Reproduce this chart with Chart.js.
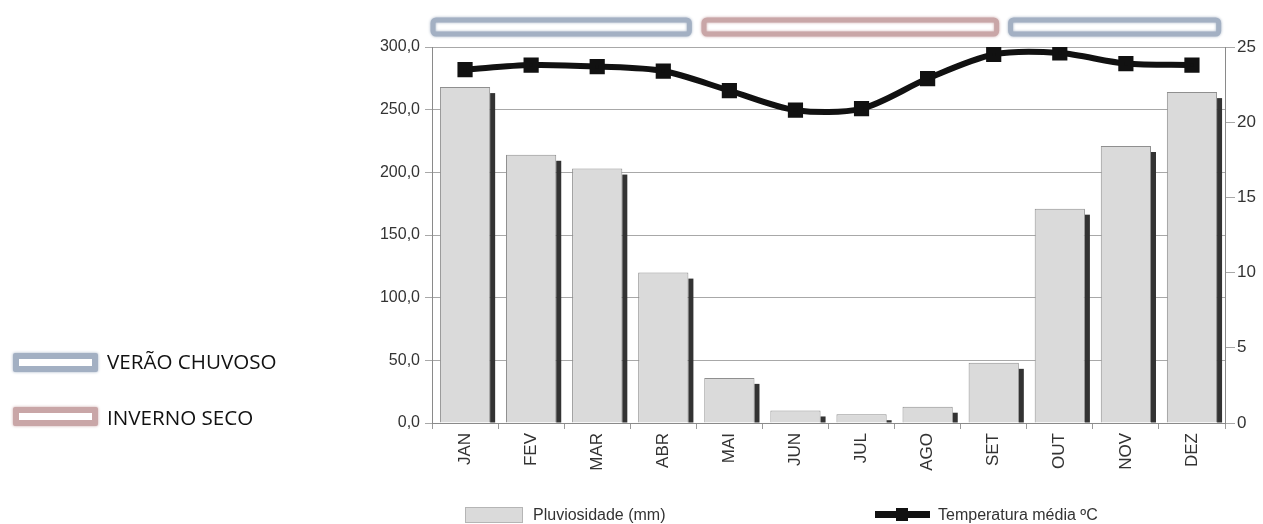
<!DOCTYPE html>
<html>
<head>
<meta charset="utf-8">
<script src="https://cdn.jsdelivr.net/npm/chart.js@4.4.1/dist/chart.umd.min.js"></script>
<style>
  body { margin: 0; background: #fff; }
  #wrap { position: absolute; left: 0; top: 0; width: 1263px; height: 524px; }
  .leg { position: absolute; font-family: "Open Sans", sans-serif; font-size: 20.6px; color: #111; line-height: 20px; }
  .box { position: absolute; width: 73px; height: 7px; background: #fff; border-radius: 2px; }
  .bleg { position: absolute; font-family: "Liberation Sans", Arial, sans-serif; font-size: 16px; color: #333; line-height: 16px; }
</style>
</head>
<body>
<div id="wrap">
  <canvas id="grafico" width="1263" height="524"></canvas>
</div>
<div class="box" style="left:13px;top:353px;border:6px solid #a3b0c3;box-shadow:0 0 3px #a3b0c3;"></div>
<div class="leg" style="left:107px;top:351px;">VERÃO CHUVOSO</div>
<div class="box" style="left:13px;top:407px;border:6px solid #c9a6a7;box-shadow:0 0 3px #c9a6a7;"></div>
<div class="leg" style="left:107px;top:407px;">INVERNO SECO</div>

<div style="position:absolute;left:465px;top:507px;width:56px;height:14px;background:#dadada;border:1px solid #b5b5b5;"></div>
<div class="bleg" style="left:533px;top:507px;">Pluviosidade (mm)</div>
<div style="position:absolute;left:875px;top:511px;width:55px;height:7px;background:#111;"></div>
<div style="position:absolute;left:896px;top:508px;width:12px;height:13px;background:#111;"></div>
<div class="bleg" style="left:938px;top:507px;">Temperatura média ºC</div>

<script>
const meses = ['JAN', 'FEV', 'MAR', 'ABR', 'MAI', 'JUN', 'JUL', 'AGO', 'SET', 'OUT', 'NOV', 'DEZ'];
const chuva = [268, 214, 203, 120, 36, 10, 7, 13, 48, 171, 221, 264];
const temperatura = [23.5, 23.8, 23.7, 23.4, 22.1, 20.8, 20.9, 22.9, 24.5, 24.6, 23.9, 23.8];

const sombraBarras = {
    id: 'sombraBarras',
    afterDatasetDraw(chart, args) {
        if (args.index !== 0) return;
        const ctx = chart.ctx;
        ctx.save();
        ctx.fillStyle = '#333';
        args.meta.data.forEach(function(bar) {
            const topo = Math.min(bar.y + 6, bar.base - 2);
            ctx.fillRect(bar.x + bar.width / 2, topo, 5, bar.base - topo);
        });
        ctx.restore();
    }
};

// faixas das estações no topo (limites em posição de mês)
const faixasEstacao = {
    id: 'faixasEstacao',
    afterDraw(chart) {
        const faixas = [
            { de: -0.53, ate: 3.44, cor: '#a3b0c3' },
            { de: 3.57, ate: 8.09, cor: '#c9a6a7' },
            { de: 8.21, ate: 11.45, cor: '#a3b0c3' }
        ];
        const ctx = chart.ctx;
        const x = chart.scales.x;
        ctx.save();
        faixas.forEach(function(f) {
            const ini = x.getPixelForValue(f.de);
            const fim = x.getPixelForValue(f.ate);
            ctx.shadowColor = f.cor;
            ctx.shadowBlur = 3;
            ctx.strokeStyle = f.cor;
            ctx.lineWidth = 5;
            ctx.beginPath();
            ctx.roundRect(ini + 3, 20, fim - ini - 6, 14, 3);
            ctx.stroke();
        });
        ctx.restore();
    }
};

new Chart(document.getElementById('grafico'), {
    data: {
        labels: meses,
        datasets: [{
            type: 'bar',
            label: 'Pluviosidade (mm)',
            data: chuva,
            yAxisID: 'y',
            backgroundColor: '#dadada',
            borderColor: '#8f8f8f',
            borderWidth: 1,
            barPercentage: 0.76,
            categoryPercentage: 1,
            order: 1
        }, {
            type: 'line',
            label: 'Temperatura média ºC',
            data: temperatura,
            yAxisID: 'y1',
            borderColor: '#111',
            backgroundColor: '#111',
            borderWidth: 6,
            tension: 0.3,
            pointStyle: 'rect',
            pointRadius: 6.5,
            order: 0
        }]
    },
    options: {
        responsive: false,
        animation: false,
        layout: {
            padding: { left: 372, right: 0, top: 47, bottom: 23 }
        },
        scales: {
            x: {
                grid: { offset: true, drawOnChartArea: false, tickLength: 6, color: '#9a9a9a' },
                border: { color: '#8a8a8a' },
                ticks: {
                    minRotation: 90, maxRotation: 90, padding: 4,
                    color: '#333',
                    font: { family: 'Liberation Sans', size: 17 }
                },
                afterFit(scale) { scale.height = 78; }
            },
            y: {
                position: 'left',
                min: 0, max: 300,
                ticks: {
                    stepSize: 50, color: '#333', padding: 5,
                    font: { family: 'Liberation Sans', size: 16 },
                    callback: function(v) { return v.toFixed(1).replace('.', ','); }
                },
                grid: { color: '#a8a8a8', tickLength: 7 },
                border: { color: '#8a8a8a' },
                afterFit(scale) { scale.width = 60; }
            },
            y1: {
                position: 'right',
                min: 0, max: 25,
                ticks: {
                    stepSize: 5, color: '#333', padding: 2,
                    font: { family: 'Liberation Sans', size: 17 }
                },
                grid: { drawOnChartArea: false, tickLength: 10, color: '#a8a8a8' },
                border: { color: '#8a8a8a' },
                afterFit(scale) { scale.width = 38; }
            }
        },
        plugins: {
            legend: { display: false },
            tooltip: { enabled: false }
        }
    },
    plugins: [sombraBarras, faixasEstacao]
});
</script>
</body>
</html>
